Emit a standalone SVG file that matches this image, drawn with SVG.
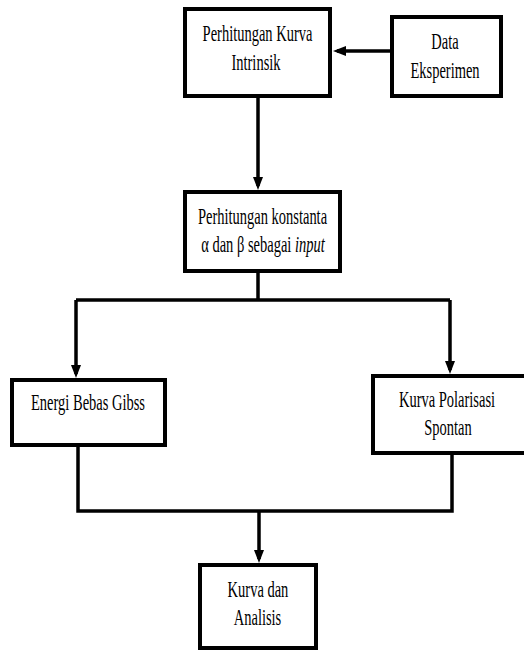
<svg xmlns="http://www.w3.org/2000/svg" width="524" height="652" viewBox="0 0 524 652">
<style>
.box{fill:#fff;stroke:#000;stroke-width:4}
text{font-family:'Liberation Serif','Times New Roman',Times,serif;font-size:23px;fill:#000;text-anchor:middle}
.c{fill:none;stroke:#000;stroke-width:3.5;stroke-linejoin:miter}
</style>
<defs>
<marker id="ah" viewBox="0 0 13 10" refX="9" refY="5" markerWidth="13" markerHeight="10" markerUnits="userSpaceOnUse" orient="auto">
<path d="M0,0 L13,5 L0,10 Z" fill="#000"/>
</marker>
</defs>
<rect width="524" height="652" fill="#fff"/>
<g id="connectors">
<path class="c" d="M390,51 L337,51" marker-end="url(#ah)"/>
<path class="c" d="M258,98 L258,186" marker-end="url(#ah)"/>
<path class="c" d="M258,273 L258,300 M76,300 L450,300"/>
<path class="c" d="M76,300 L76,374" marker-end="url(#ah)"/>
<path class="c" d="M450,300 L450,370" marker-end="url(#ah)"/>
<path class="c" d="M78,447 L78,511 L452,511 L452,455"/>
<path class="c" d="M259,511 L259,559" marker-end="url(#ah)"/>
</g>
<g id="n1">
<rect class="box" x="185" y="9" width="145" height="87"/>
<text transform="matrix(0.63 0 0 1 257.5 41)">Perhitungan Kurva</text>
<text transform="matrix(0.63 0 0 1 256 70)">Intrinsik</text>
</g>
<g id="n2">
<rect class="box" x="392" y="17" width="109" height="79"/>
<text transform="matrix(0.63 0 0 1 445 49)">Data</text>
<text transform="matrix(0.63 0 0 1 445 78)">Eksperimen</text>
</g>
<g id="n3">
<rect class="box" x="185" y="192" width="155" height="79"/>
<text transform="matrix(0.63 0 0 1 262.5 224)">Perhitungan konstanta</text>
<text transform="matrix(0.63 0 0 1 263 252)">α dan β sebagai <tspan font-style="italic">input</tspan></text>
</g>
<g id="n4">
<rect class="box" x="12" y="380" width="153" height="65"/>
<text transform="matrix(0.63 0 0 1 88 410)">Energi Bebas Gibss</text>
</g>
<g id="n5">
<rect class="box" x="373" y="376" width="160" height="77"/>
<text transform="matrix(0.63 0 0 1 447 407)">Kurva Polarisasi</text>
<text transform="matrix(0.63 0 0 1 448 435)">Spontan</text>
</g>
<g id="n6">
<rect class="box" x="200" y="565" width="116" height="83"/>
<text transform="matrix(0.63 0 0 1 258 597)">Kurva dan</text>
<text transform="matrix(0.63 0 0 1 257.5 625)">Analisis</text>
</g>
</svg>
